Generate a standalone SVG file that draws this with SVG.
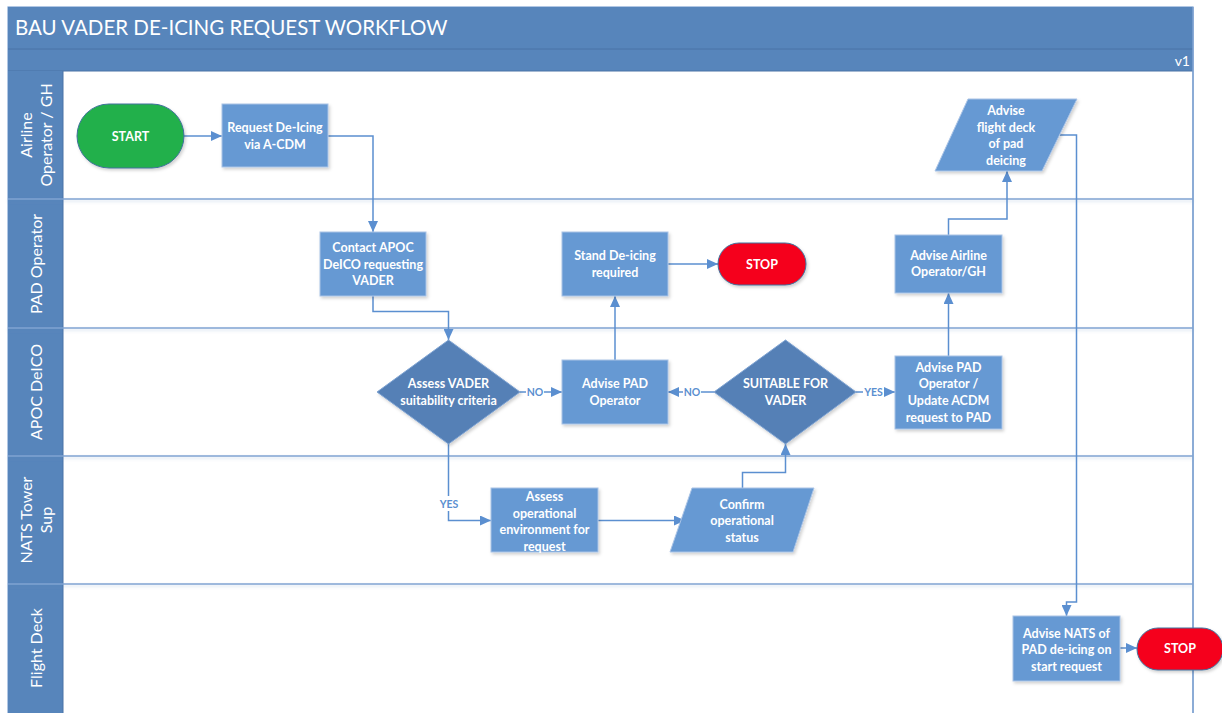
<svg xmlns="http://www.w3.org/2000/svg" width="1222" height="713" viewBox="0 0 1222 713">
  <defs>
    <marker id="arrow" markerUnits="userSpaceOnUse" markerWidth="11" markerHeight="10" viewBox="0 0 11 10" refX="11" refY="5" orient="auto">
      <path d="M0,0 L11,5 L0,10 Z" fill="#5B8FD0"/>
    </marker>
    <filter id="shadow" x="-10%" y="-10%" width="125%" height="130%">
      <feDropShadow dx="1.5" dy="2" stdDeviation="1.5" flood-color="#000" flood-opacity="0.18"/>
    </filter>
    <filter id="lineshadow" x="-5%" y="-200%" width="110%" height="500%">
      <feDropShadow dx="0" dy="2" stdDeviation="1.5" flood-color="#5785BB" flood-opacity="0.25"/>
    </filter>
    <style>
      .band { fill: #5785BB; }
      .hdr { fill: #5785BB; }
      .lane-line { stroke: #7FA3D2; stroke-width: 1.5; fill: none; }
      .frame { stroke: #7FA3D2; stroke-width: 1.2; fill: #FFFFFF; }
      .title { font-family: Lato, "Liberation Sans", sans-serif; font-size: 20.5px; fill: #FFFFFF; }
      .ver { font-family: Lato, "Liberation Sans", sans-serif; font-size: 14px; fill: #FFFFFF; }
      .lane-text { font-family: Lato, "Liberation Sans", sans-serif; font-size: 16px; fill: #FFFFFF; text-anchor: middle; }
      .box { fill: #6699D3; stroke: #A9C3E6; stroke-width: 1; filter: url(#shadow); }
      .dia { fill: #5580B6; stroke: #7FA3D2; stroke-width: 1; filter: url(#shadow); }
      .start { fill: #21B04B; stroke: #41719C; stroke-width: 1; filter: url(#shadow); }
      .stop { fill: #F5001E; stroke: #41719C; stroke-width: 1; filter: url(#shadow); }
      .lbl { font-family: Lato, "Liberation Sans", sans-serif; font-size: 12.5px; font-weight: bold; fill: #FFFFFF; text-anchor: middle; }
      .conn { stroke: #5B8FD0; stroke-width: 1.5; fill: none; }
      .clbl { font-family: Lato, "Liberation Sans", sans-serif; font-size: 10.5px; font-weight: bold; fill: #5B8FD0; text-anchor: middle; }
    </style>
  </defs>

  <rect width="1222" height="713" fill="#FFFFFF"/>

  <!-- pool frame -->
  <rect class="frame" x="8" y="7" width="1185" height="710"/>
  <rect class="band" x="8" y="7" width="1185" height="42"/>
  <rect class="band" x="8" y="49" width="1185" height="22"/>
  <line x1="8" y1="49" x2="1193" y2="49" stroke="#4A73A6" stroke-width="1"/>
  <line x1="8" y1="71" x2="1193" y2="71" stroke="#4A73A6" stroke-width="1"/>
  <text class="title" x="15" y="35">BAU VADER DE-ICING REQUEST WORKFLOW</text>
  <text class="ver" x="1190" y="66" text-anchor="end">v1</text>

  <!-- lane headers -->
  <g id="lane-airline">
    <rect class="hdr" x="8" y="71" width="55" height="128"/>
    <text class="lane-text" transform="translate(35.5,135) rotate(-90)"><tspan x="0" y="-4">Airline</tspan><tspan x="0" y="16">Operator / GH</tspan></text>
  </g>
  <g id="lane-pad">
    <rect class="hdr" x="8" y="199" width="55" height="129"/>
    <text class="lane-text" transform="translate(35.5,264) rotate(-90)" y="6">PAD Operator</text>
  </g>
  <g id="lane-apoc">
    <rect class="hdr" x="8" y="328" width="55" height="128"/>
    <text class="lane-text" transform="translate(35.5,392) rotate(-90)" y="6">APOC DeICO</text>
  </g>
  <g id="lane-nats">
    <rect class="hdr" x="8" y="456" width="55" height="128"/>
    <text class="lane-text" transform="translate(35.5,520) rotate(-90)"><tspan x="0" y="-4">NATS Tower</tspan><tspan x="0" y="16">Sup</tspan></text>
  </g>
  <g id="lane-flightdeck">
    <rect class="hdr" x="8" y="584" width="55" height="129"/>
    <text class="lane-text" transform="translate(35.5,648) rotate(-90)" y="6">Flight Deck</text>
  </g>
  <line x1="63" y1="71" x2="63" y2="713" stroke="#4A73A6" stroke-width="1"/>
  <g filter="url(#lineshadow)">
    <line class="lane-line" x1="8" y1="199" x2="1193" y2="199"/>
    <line class="lane-line" x1="8" y1="328" x2="1193" y2="328"/>
    <line class="lane-line" x1="8" y1="456" x2="1193" y2="456"/>
    <line class="lane-line" x1="8" y1="584" x2="1193" y2="584"/>
  </g>
  <line class="lane-line" x1="1193" y1="7" x2="1193" y2="713"/>

  <!-- connectors -->
  <g id="connectors">
    <path class="conn" d="M184,136 H222" marker-end="url(#arrow)"/>
    <path class="conn" d="M328,136 H373 V232" marker-end="url(#arrow)"/>
    <path class="conn" d="M373,296 V311.5 H448.5 V340" marker-end="url(#arrow)"/>
    <path class="conn" d="M520,392 H562" marker-end="url(#arrow)"/>
    <path class="conn" d="M615,360 V296" marker-end="url(#arrow)"/>
    <path class="conn" d="M668,264 H718" marker-end="url(#arrow)"/>
    <path class="conn" d="M714,392 H668" marker-end="url(#arrow)"/>
    <path class="conn" d="M856,392 H895" marker-end="url(#arrow)"/>
    <path class="conn" d="M948.5,356 V293" marker-end="url(#arrow)"/>
    <path class="conn" d="M948.5,235 V219 H1007 V171" marker-end="url(#arrow)"/>
    <path class="conn" d="M1060,135 H1076.5 V602 H1066.5 V616" marker-end="url(#arrow)"/>
    <path class="conn" d="M448.5,444 V520.5 H491" marker-end="url(#arrow)"/>
    <path class="conn" d="M598,520.5 H685" marker-end="url(#arrow)"/>
    <path class="conn" d="M742.5,488 V472.5 H785.5 V444" marker-end="url(#arrow)"/>
    <path class="conn" d="M1120,648 H1137" marker-end="url(#arrow)"/>
    <!-- branch labels -->
    <rect x="526" y="385" width="18" height="14" fill="#FFFFFF"/>
    <text class="clbl" x="535" y="396">NO</text>
    <rect x="683" y="385" width="18" height="14" fill="#FFFFFF"/>
    <text class="clbl" x="692" y="396" font-weight="normal">NO</text>
    <rect x="863" y="385" width="21" height="14" fill="#FFFFFF"/>
    <text class="clbl" x="873.5" y="396" font-weight="normal">YES</text>
    <rect x="438" y="496" width="22" height="15" fill="#FFFFFF"/>
    <text class="clbl" x="449" y="508">YES</text>
  </g>

  <!-- nodes -->
  <g id="start">
    <rect class="start" x="77" y="104" width="107" height="64" rx="32" ry="32"/>
    <text class="lbl" x="130.5" y="140.5">START</text>
  </g>
  <g id="request-deicing">
    <rect class="box" x="222" y="104" width="106" height="63"/>
    <text class="lbl" x="275" y="132">Request De-Icing</text>
    <text class="lbl" x="275" y="149">via A-CDM</text>
  </g>
  <g id="advise-flight-deck">
    <polygon class="box" points="968,99 1077,99 1042,171 935,171"/>
    <text class="lbl" x="1006" y="115">Advise</text>
    <text class="lbl" x="1006" y="131.5">flight deck</text>
    <text class="lbl" x="1006" y="148">of pad</text>
    <text class="lbl" x="1006" y="164.5">deicing</text>
  </g>
  <g id="contact-apoc">
    <rect class="box" x="320" y="232" width="106" height="64"/>
    <text class="lbl" x="373" y="252">Contact APOC</text>
    <text class="lbl" x="373" y="268.5">DeICO requesting</text>
    <text class="lbl" x="373" y="285">VADER</text>
  </g>
  <g id="stand-deicing">
    <rect class="box" x="562" y="232" width="106" height="64"/>
    <text class="lbl" x="615" y="260">Stand De-icing</text>
    <text class="lbl" x="615" y="276.5">required</text>
  </g>
  <g id="stop-pad">
    <rect class="stop" x="718" y="243" width="88" height="42" rx="21" ry="21"/>
    <text class="lbl" x="762" y="268.5">STOP</text>
  </g>
  <g id="advise-airline">
    <rect class="box" x="895" y="235" width="107" height="58"/>
    <text class="lbl" x="948.5" y="259.5">Advise Airline</text>
    <text class="lbl" x="948.5" y="276">Operator/GH</text>
  </g>
  <g id="assess-suitability">
    <polygon class="dia" points="448.5,340 520,392 448.5,444 377,392"/>
    <text class="lbl" x="448.5" y="388">Assess VADER</text>
    <text class="lbl" x="448.5" y="405">suitability criteria</text>
  </g>
  <g id="advise-pad-operator">
    <rect class="box" x="562" y="360" width="106" height="64"/>
    <text class="lbl" x="615" y="388">Advise PAD</text>
    <text class="lbl" x="615" y="405">Operator</text>
  </g>
  <g id="suitable-for-vader">
    <polygon class="dia" points="785.5,340 856,392 785.5,444 714,392"/>
    <text class="lbl" x="785.5" y="388">SUITABLE FOR</text>
    <text class="lbl" x="785.5" y="405">VADER</text>
  </g>
  <g id="advise-pad-update-acdm">
    <rect class="box" x="895" y="356" width="107" height="73"/>
    <text class="lbl" x="948.5" y="371.5">Advise PAD</text>
    <text class="lbl" x="948.5" y="388">Operator /</text>
    <text class="lbl" x="948.5" y="405">Update ACDM</text>
    <text class="lbl" x="948.5" y="421.5">request to PAD</text>
  </g>
  <g id="assess-environment">
    <rect class="box" x="491" y="488" width="107" height="64"/>
    <text class="lbl" x="544.5" y="501">Assess</text>
    <text class="lbl" x="544.5" y="517.5">operational</text>
    <text class="lbl" x="544.5" y="534">environment for</text>
    <text class="lbl" x="544.5" y="550.5">request</text>
  </g>
  <g id="confirm-status">
    <polygon class="box" points="692,488 814,488 793,552 670,552"/>
    <text class="lbl" x="742" y="508.5">Confirm</text>
    <text class="lbl" x="742" y="525">operational</text>
    <text class="lbl" x="742" y="541.5">status</text>
  </g>
  <g id="advise-nats">
    <rect class="box" x="1013" y="616" width="107" height="65"/>
    <text class="lbl" x="1066.5" y="637.5">Advise NATS of</text>
    <text class="lbl" x="1066.5" y="654">PAD de-icing on</text>
    <text class="lbl" x="1066.5" y="671">start request</text>
  </g>
  <g id="stop-flightdeck">
    <rect class="stop" x="1137" y="628" width="86" height="42" rx="21" ry="21"/>
    <text class="lbl" x="1180" y="652.5">STOP</text>
  </g>
</svg>
